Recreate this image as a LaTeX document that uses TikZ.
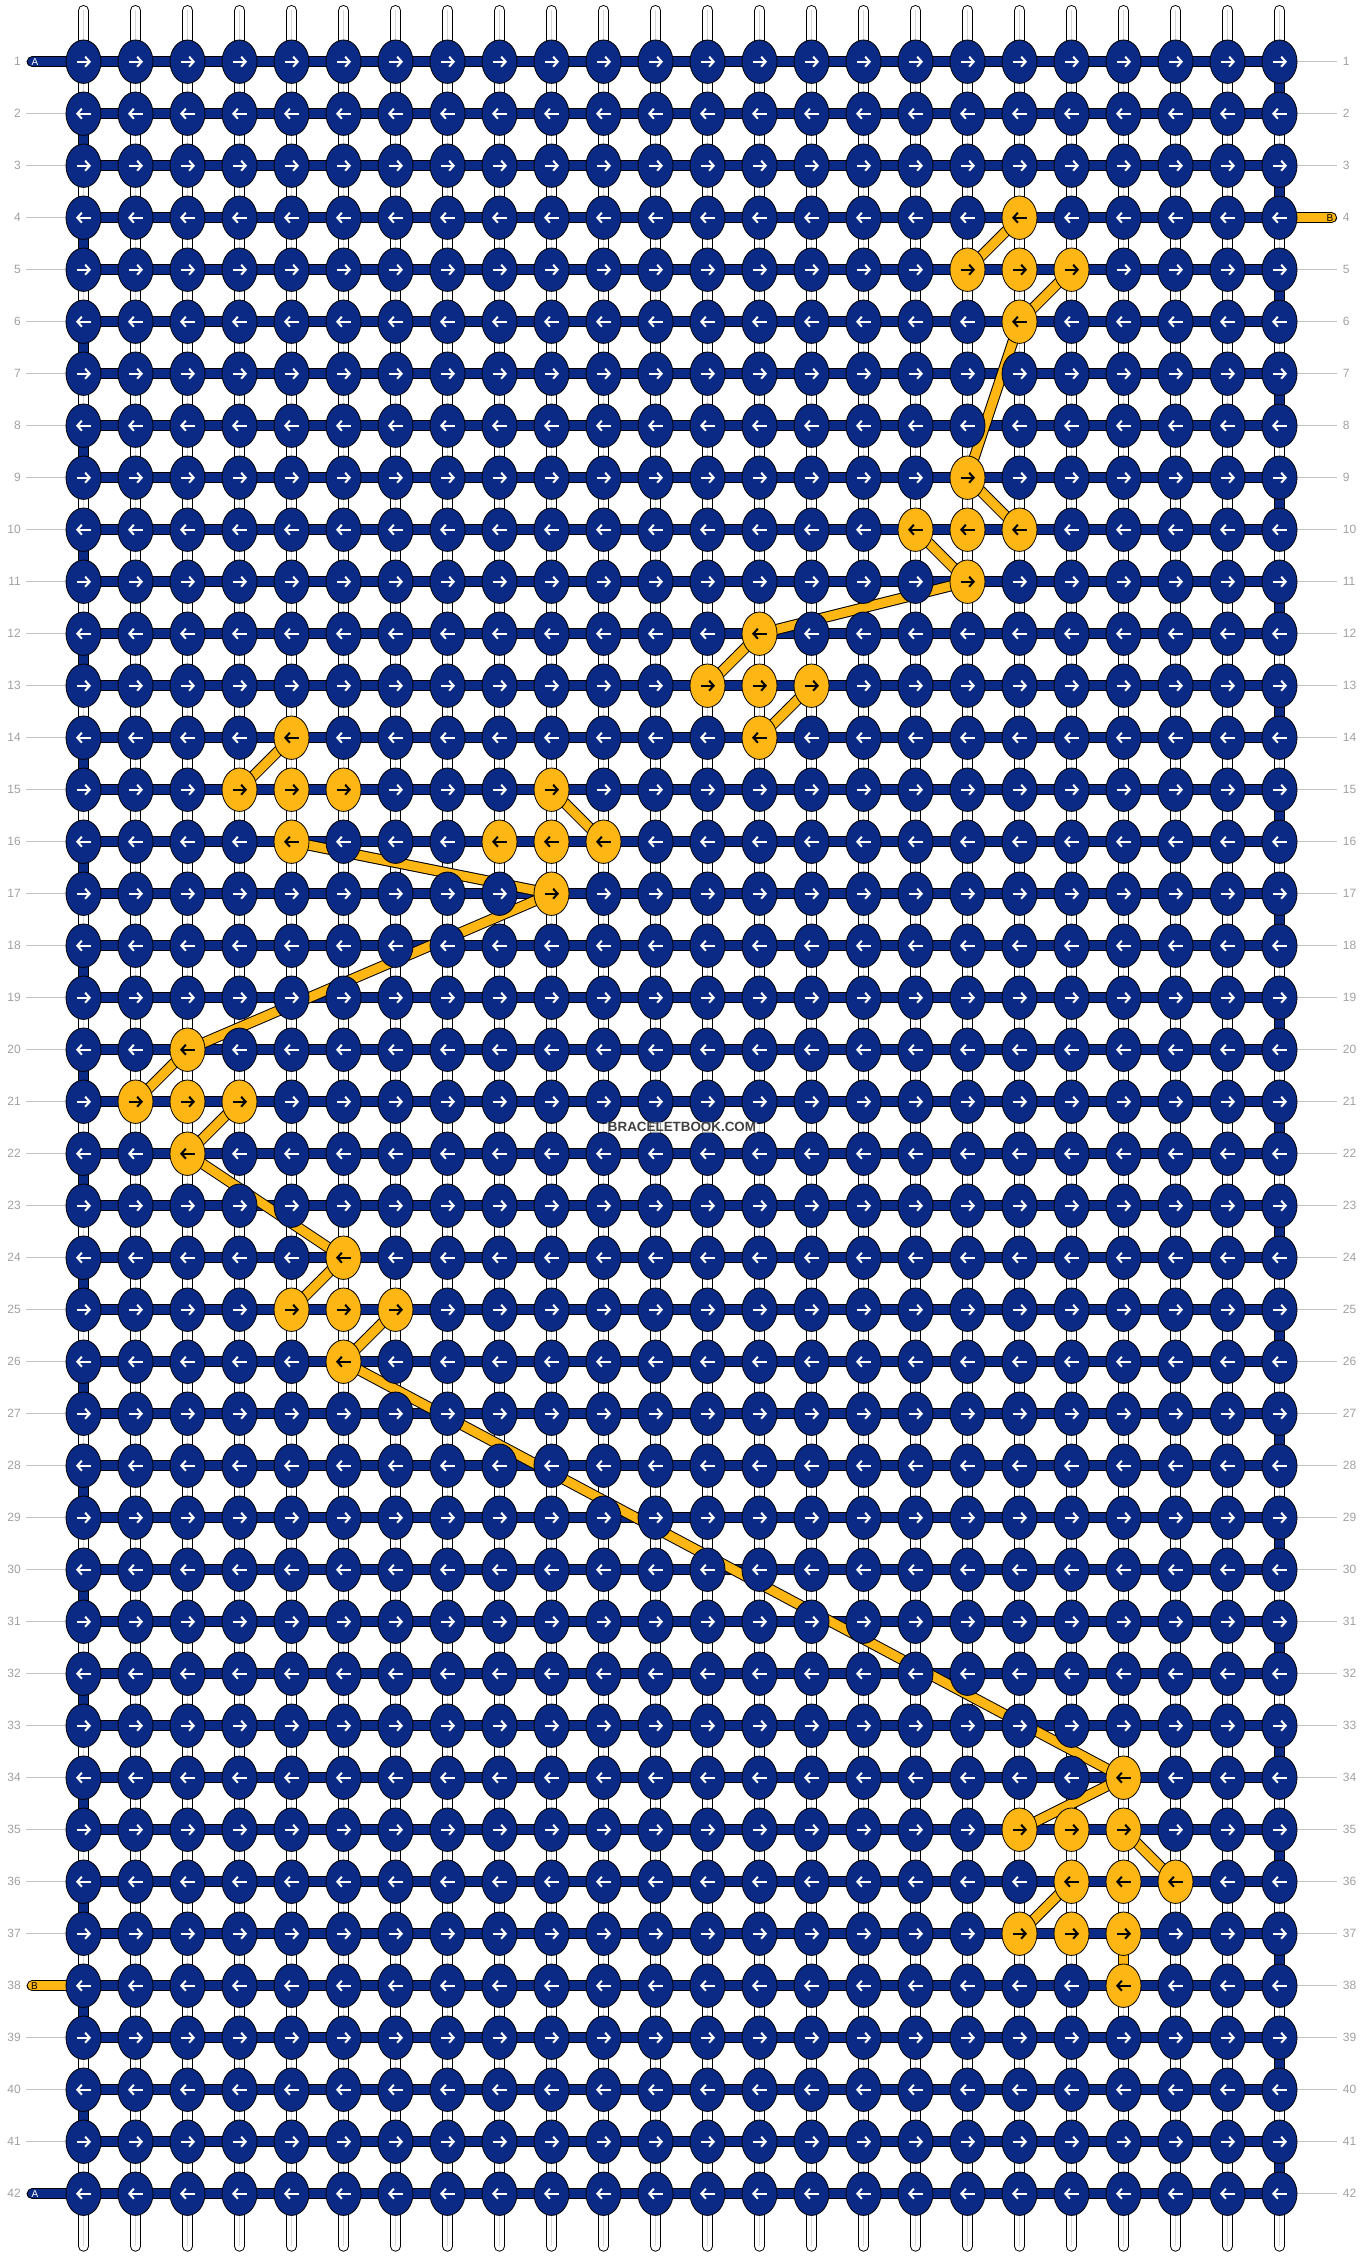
\documentclass[tikz,border=0pt]{standalone}
\usepackage{fontspec}
\setmainfont{Liberation Sans}
\usetikzlibrary{shapes.geometric,arrows.meta}

\definecolor{azul}{RGB}{11,42,133}
\definecolor{amarillo}{RGB}{253,182,20}
\definecolor{gristxt}{RGB}{160,160,160}
\definecolor{grislin}{RGB}{195,195,195}
\definecolor{griscuerda}{RGB}{215,215,215}

\pgfdeclarelayer{cuerdas}
\pgfdeclarelayer{hilos}
\pgfdeclarelayer{amarillos}
\pgfsetlayers{cuerdas,hilos,amarillos,main}

\tikzset{
  nudo/.style={ellipse, draw=black, line width=0.8pt, minimum width=35pt, minimum height=43.4pt, inner sep=0pt,
    path picture={\draw[flecha, draw=\punta] ([xshift=\xa]path picture bounding box.center) -- ([xshift=\xb]path picture bounding box.center);}},
  flecha/.style={line width=2pt, -{Straight Barb[length=4.5pt,width=10pt]}},
  cuerda/.style={line width=1pt, double=white, double distance=9pt, line cap=round},
  hilo/.style={line width=1pt, double=azul, double distance=9pt, line cap=round},
  hiloB/.style={line width=1pt, double=amarillo, double distance=9pt, line cap=round},
  numero/.style={font=\fontsize{12}{14}\selectfont, text=gristxt, inner sep=0pt},
  letra/.style={font=\fontsize{10}{12}\selectfont, inner sep=0pt},
}

\begin{document}
\begin{tikzpicture}[x=1pt,y=-1pt]
    \useasboundingbox (0,0) rectangle (1364,2256);

    % Nudos amarillos (hilo B)
    \foreach \p in {4-19,5-18,5-19,5-20,6-19,9-18,10-17,10-18,10-19,11-18,
                    12-14,13-13,13-14,13-15,14-14,14-5,15-4,15-5,15-6,16-5,
                    15-10,16-9,16-10,16-11,17-10,20-3,21-2,21-3,21-4,22-3,
                    24-6,25-5,25-6,25-7,26-6,34-21,35-19,35-20,35-21,
                    36-20,36-21,36-22,37-19,37-20,37-21,38-21}
        {\expandafter\gdef\csname am\p\endcsname{1}}

    % Nudos
    \foreach \r in {1,...,42}{
        \ifodd\r \gdef\xa{-7pt}\gdef\xb{7.5pt}\else\gdef\xa{7pt}\gdef\xb{-7.5pt}\fi
        \foreach \c in {1,...,24}{
            \ifcsname am\r-\c\endcsname \gdef\relleno{amarillo}\gdef\punta{black}\else\gdef\relleno{azul}\gdef\punta{white}\fi
            \node[nudo, fill=\relleno] (k-\r-\c) at ({83.5+52*(\c-1)},{61.7+52*(\r-1)}) {};
        }
        % numeros de fila
        \node[numero, anchor=east] (izq-\r) at (21,{61.7+52*(\r-1)}) {\r};
        \node[numero, anchor=west] (dcha-\r) at (1342.7,{61.7+52*(\r-1)}) {\r};
    }

    % Cuerdas verticales y lineas de fila
    \begin{pgfonlayer}{cuerdas}
        \foreach \c in {1,...,24}{
            \coordinate (arr-\c) at ({83.5+52*(\c-1)},10.5);
            \coordinate (aba-\c) at ({83.5+52*(\c-1)},2246.2);
            \draw[cuerda] (arr-\c) -- (aba-\c);
            \draw[griscuerda, line width=1.6pt] (arr-\c) -- (aba-\c);
        }
        \foreach \r in {1,...,42}{
            \draw[grislin, line width=1pt] ([xshift=5pt]izq-\r.east) -- (k-\r-1.west);
            \draw[grislin, line width=1pt] (k-\r-24.east) -- ([xshift=-5.5pt]dcha-\r.west);
        }
    \end{pgfonlayer}

    % Hilo A
    \begin{pgfonlayer}{hilos}
        \foreach \r in {1,...,42}
            \draw[hilo] (k-\r-1.center) -- (k-\r-24.center);
        \foreach \r [evaluate=\r as \s using int(\r+1)] in {2,4,...,40}
            \draw[hilo] (k-\r-1.center) -- (k-\s-1.center);
        \foreach \r [evaluate=\r as \s using int(\r+1)] in {1,3,...,41}
            \draw[hilo] (k-\r-24.center) -- (k-\s-24.center);
        \coordinate (pA-1) at (32.2,61.7);
        \coordinate (pA-42) at (32.2,2193.7);
        \draw[hilo] (pA-1) -- (k-1-1.center);
        \draw[hilo] (pA-42) -- (k-42-1.center);
        \node[letra, text=white] (letraA-1) at (35,62) {A};
        \node[letra, text=white] (letraA-42) at (35,2194) {A};
        % Hilo B
        \coordinate (pB-4) at (1331.5,217.7);
        \coordinate (pB-38) at (32.2,1985.7);
        \draw[hiloB] (k-4-24.center) -- (pB-4);
        \draw[hiloB] (pB-38) -- (k-38-1.center);
        \node[letra, text=black] (letraB-4) at (1330,218) {B};
        \node[letra, text=black] (letraB-38) at (34.5,1986) {B};
    \end{pgfonlayer}

    % Recorrido del hilo B
    \begin{pgfonlayer}{amarillos}
        \foreach \a/\b in {4-19/5-18, 5-20/6-19, 6-19/9-18, 9-18/10-19, 10-17/11-18,
                           11-18/12-14, 12-14/13-13, 13-15/14-14, 14-5/15-4, 16-5/17-10,
                           15-10/16-11, 17-10/20-3, 20-3/21-2, 21-4/22-3, 22-3/24-6,
                           24-6/25-5, 25-7/26-6, 26-6/34-21, 34-21/35-19, 35-21/36-22,
                           36-20/37-19, 37-21/38-21}
            \draw[hiloB] (k-\a.center) -- (k-\b.center);
    \end{pgfonlayer}

    % Marca de agua
    \node[font=\bfseries\fontsize{13.4}{15}\selectfont, text=black!75, fill=white, fill opacity=0.55, text opacity=1, inner sep=1pt] (marca) at (682,1127.3) {BRACELETBOOK.COM};
\end{tikzpicture}
\end{document}
